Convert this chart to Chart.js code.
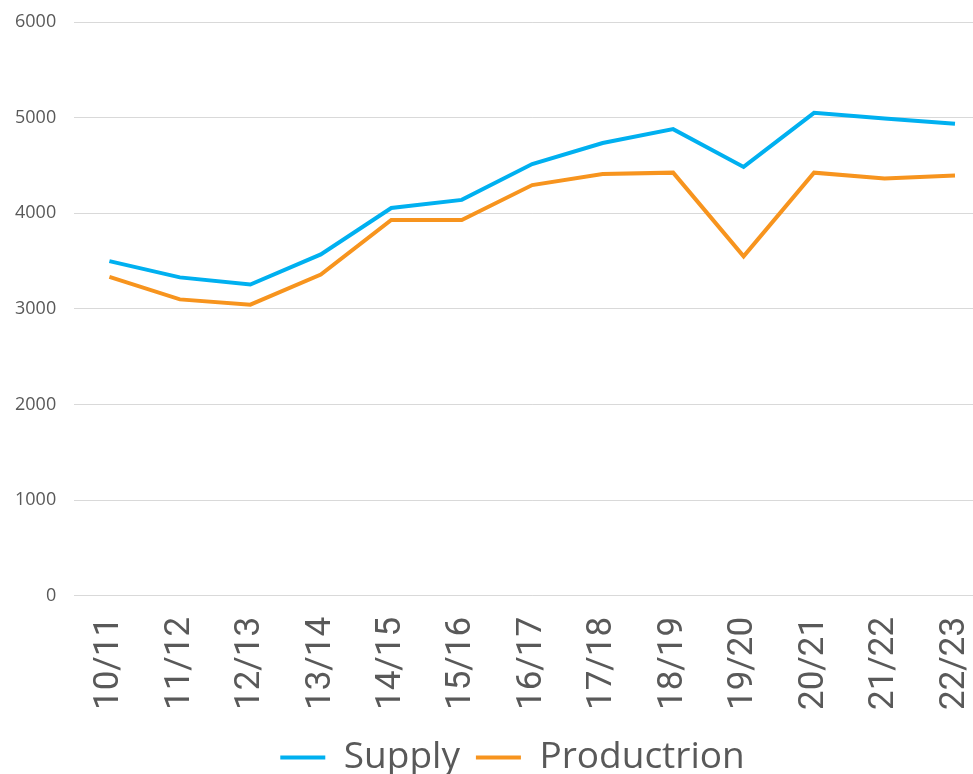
<!DOCTYPE html>
<html>
<head>
<meta charset="utf-8">
<script src="https://cdn.jsdelivr.net/npm/chart.js@4"></script>
<style>
  html, body { margin: 0; padding: 0; background: #fff; overflow: hidden; }
  #wrap { width: 1010px; height: 786px; }
</style>
</head>
<body>
<div id="wrap"><canvas id="supplyChart"></canvas></div>
<script>
const seasons = ['10/11', '11/12', '12/13', '13/14', '14/15', '15/16', '16/17', '17/18', '18/19', '19/20', '20/21', '21/22', '22/23'];
const supply = [3500, 3330, 3255, 3570, 4055, 4140, 4515, 4735, 4880, 4485, 5050, 4990, 4935];
const production = [3335, 3100, 3045, 3360, 3930, 3930, 4295, 4410, 4425, 3550, 4425, 4365, 4395];
const yTicks = [0, 1000, 2000, 3000, 4000, 5000, 6000];

// Supply vs Production Line Chart
new Chart(document.getElementById('supplyChart'), {
    type: 'line',
    data: {
        labels: seasons,
        datasets: [{
            label: 'Supply',
            data: supply,
            borderColor: '#00B0F0',
            backgroundColor: '#00B0F0',
            borderWidth: 4,
            pointRadius: 0,
            tension: 0
        }, {
            label: 'Productrion',
            data: production,
            borderColor: '#F7941E',
            backgroundColor: '#F7941E',
            borderWidth: 4,
            pointRadius: 0,
            tension: 0
        }]
    },
    options: {
        responsive: true,
        maintainAspectRatio: false,
        animation: false,
        layout: { padding: { top: 22, left: 15, right: 0, bottom: 0 } },
        plugins: {
            tooltip: { enabled: false },
            legend: {
                position: 'bottom',
                labels: {
                    usePointStyle: true,
                    pointStyle: 'line',
                    pointStyleWidth: 45,
                    color: '#595959',
                    font: { family: 'Open Sans', size: 37 },
                    padding: 16
                }
            }
        },
        scales: {
            x: {
                offset: true,
                grid: { display: false },
                border: { display: false },
                ticks: {
                    color: '#595959',
                    font: { family: 'Roboto', size: 35 },
                    minRotation: 90,
                    maxRotation: 90,
                    padding: 13,
                    autoSkip: false
                }
            },
            y: {
                min: 0,
                max: 6000,
                afterBuildTicks: axis => { axis.ticks = yTicks.map(v => ({ value: v })); },
                grid: { color: '#D9D9D9', lineWidth: 1, tickLength: 18, tickColor: 'rgba(0,0,0,0)' },
                border: { display: false },
                ticks: {
                    color: '#595959',
                    font: { family: 'Open Sans', size: 18 },
                    padding: 0,
                    callback: v => String(v)
                }
            }
        }
    }
});
</script>
</body>
</html>
